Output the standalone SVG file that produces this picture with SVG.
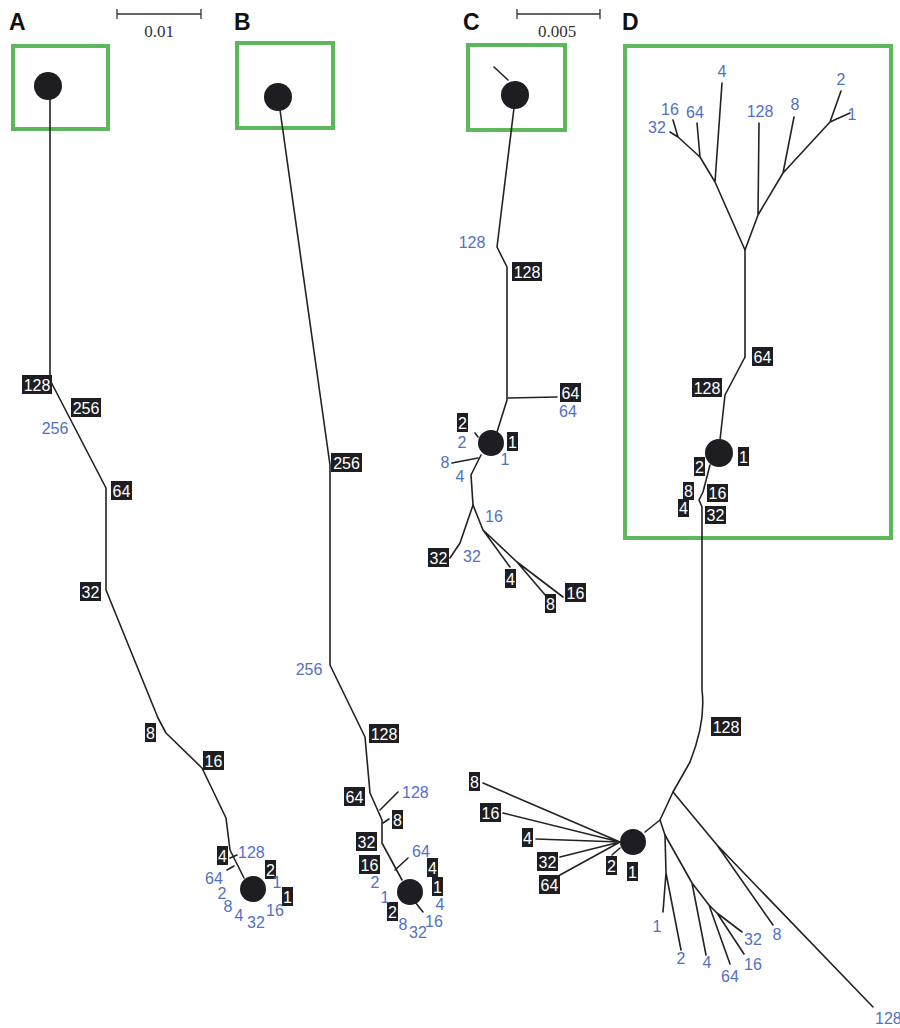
<svg xmlns="http://www.w3.org/2000/svg" width="900" height="1028" viewBox="0 0 900 1028">
<style>
.bg{fill:#fff}
.gb{fill:none;stroke:#5cb85a;stroke-width:4}
.e{fill:none;stroke:#222;stroke-width:1.6;stroke-linejoin:round;stroke-linecap:round}
.sc{fill:none;stroke:#333;stroke-width:1.3}
.nd{fill:#1e1e22}
.bx{fill:#1e1e22}
.wt{fill:#fff;font-family:"Liberation Sans",Arial,sans-serif;font-size:16px;text-anchor:middle}
.bl{fill:#5270c4;font-family:"Liberation Sans",Arial,sans-serif;font-size:16px;text-anchor:middle}
.bs{fill:#5270c4;font-family:"Liberation Sans",Arial,sans-serif;font-size:16px}
.pl{fill:#111;font-family:"Liberation Sans",Arial,sans-serif;font-size:23px;font-weight:bold}
.sv{fill:#333;font-family:"Liberation Serif","Times New Roman",serif;font-size:17px;text-anchor:middle}
</style>
<rect class="bg" x="0" y="0" width="900" height="1028"/>

<g id="labels-panels">
<text class="pl" x="9" y="30">A</text>
<text class="pl" x="234" y="30">B</text>
<text class="pl" x="463" y="30">C</text>
<text class="pl" x="622" y="30">D</text>
</g>

<g id="scale-bars">
<path class="sc" d="M117,14 H201 M117,9 V19 M201,9 V19"/>
<text class="sv" x="159" y="37">0.01</text>
<path class="sc" d="M517,14 H600 M517,9 V19 M600,9 V19"/>
<text class="sv" x="557" y="37">0.005</text>
</g>

<g id="highlight-boxes">
<rect class="gb" x="13" y="46" width="95" height="83"/>
<rect class="gb" x="237" y="43" width="96" height="85"/>
<rect class="gb" x="468" y="45" width="97" height="85"/>
<rect class="gb" x="625" y="46" width="266" height="492"/>
</g>

<g id="connectors">
<!-- A -->
<path class="e" d="M50,99 V380 L106,488 V590 L158,718 L166,733 L202,768 L226,818 L230,850 L244,878"/>
<path class="e" d="M230,858 L237,855 M227,870 L234,866"/>
<!-- B -->
<path class="e" d="M280,110 L330,465 V665 L365,737 L370,793 L382,820 V843 L402,880"/>
<path class="e" d="M380,810 L398,792 M383,823 L389,819 M395,870 L408,858 M415,902 L423,912"/>
<!-- C -->
<path class="e" d="M508,80 L494,67"/>
<path class="e" d="M514,108 L497,247 L507,267 V400 L497,432"/>
<path class="e" d="M508,398 L557,397 M478,458 L452,463 M475,433 L478,437"/>
<path class="e" d="M481,455 L471,475 L473,505 L460,543 L450,558"/>
<path class="e" d="M473,505 L483,530 L510,567 M483,530 L517,562 L552,603 M517,562 L563,597"/>
<!-- D upper -->
<path class="e" d="M745,357 V250 L715,182 L700,157 L678,137 L670,132 M715,182 L722,83 M700,157 L697,123 M678,137 L673,120"/>
<path class="e" d="M745,250 L758,215 L783,173 L830,122 L850,113 M758,215 L759,123 M783,173 L794,117 M830,122 L841,91"/>
<path class="e" d="M745,357 L725,395 L720,440"/>
<path class="e" d="M710,465 L703,492 L699,500 L702,507 V690 Q706,722 690,762 L673,792 L660,820 L645,832"/>
<!-- D lower -->
<path class="e" d="M673,792 L717,845 L873,1007 M717,845 L773,925"/>
<path class="e" d="M660,820 L665,835 L666,873 L663,912 M666,873 L681,950"/>
<path class="e" d="M665,835 L692,883 L706,955 M692,883 L709,905 L730,964 M709,905 L717,913 L744,954 M717,913 L742,932"/>
<path class="e" d="M620,842 L483,783 M620,842 L503,813 M620,842 L536,839 M620,842 L560,857 M620,842 L560,875 M620,848 L612,855"/>
</g>

<g id="node-A-root"><circle class="nd" cx="48" cy="86" r="14"/></g>
<g id="node-A-tip"><circle class="nd" cx="253" cy="889" r="13"/></g>
<g id="node-B-root"><circle class="nd" cx="278" cy="97" r="14"/></g>
<g id="node-B-tip"><circle class="nd" cx="410" cy="892" r="13"/></g>
<g id="node-C-root"><circle class="nd" cx="515" cy="95" r="14"/></g>
<g id="node-C-mid"><circle class="nd" cx="491" cy="443" r="13"/></g>
<g id="node-D-upper"><circle class="nd" cx="719" cy="453" r="14"/></g>
<g id="node-D-lower"><circle class="nd" cx="633" cy="842" r="13"/></g>

<g id="tags-A">
<rect class="bx" x="22" y="375" width="30" height="19"/><text class="wt" x="37" y="391">128</text>
<rect class="bx" x="71" y="398" width="30" height="19"/><text class="wt" x="86" y="414">256</text>
<rect class="bx" x="111" y="481" width="21" height="19"/><text class="wt" x="121.5" y="497">64</text>
<rect class="bx" x="80" y="582" width="21" height="19"/><text class="wt" x="90.5" y="598">32</text>
<rect class="bx" x="145" y="723" width="11" height="19"/><text class="wt" x="150.5" y="739">8</text>
<rect class="bx" x="203" y="751" width="21" height="19"/><text class="wt" x="213.5" y="767">16</text>
<rect class="bx" x="217" y="846" width="11" height="19"/><text class="wt" x="222.5" y="862">4</text>
<rect class="bx" x="265" y="860" width="11" height="19"/><text class="wt" x="270.5" y="876">2</text>
<rect class="bx" x="282" y="887" width="11" height="19"/><text class="wt" x="287.5" y="903">1</text>
<text class="bl" x="55" y="434">256</text>
<text class="bs" x="238" y="858">128</text>
<text class="bl" x="277" y="888">1</text>
<text class="bl" x="214" y="884">64</text>
<text class="bl" x="222" y="899">2</text>
<text class="bl" x="228" y="912">8</text>
<text class="bl" x="239" y="921">4</text>
<text class="bl" x="256" y="928">32</text>
<text class="bl" x="275" y="916">16</text>
</g>

<g id="tags-B">
<rect class="bx" x="331" y="453" width="31" height="19"/><text class="wt" x="346.5" y="469">256</text>
<rect class="bx" x="369" y="724" width="30" height="19"/><text class="wt" x="384" y="740">128</text>
<rect class="bx" x="344" y="787" width="21" height="19"/><text class="wt" x="354.5" y="803">64</text>
<rect class="bx" x="392" y="810" width="11" height="19"/><text class="wt" x="397.5" y="826">8</text>
<rect class="bx" x="356" y="832" width="21" height="19"/><text class="wt" x="366.5" y="848">32</text>
<rect class="bx" x="359" y="855" width="21" height="19"/><text class="wt" x="369.5" y="871">16</text>
<rect class="bx" x="387" y="902" width="11" height="19"/><text class="wt" x="392.5" y="918">2</text>
<rect class="bx" x="427" y="858" width="11" height="19"/><text class="wt" x="432.5" y="874">4</text>
<rect class="bx" x="432" y="877" width="11" height="19"/><text class="wt" x="437.5" y="893">1</text>
<text class="bl" x="309" y="675">256</text>
<text class="bs" x="402" y="798">128</text>
<text class="bs" x="412" y="857">64</text>
<text class="bl" x="375" y="888">2</text>
<text class="bl" x="385" y="903">1</text>
<text class="bl" x="403" y="930">8</text>
<text class="bl" x="418" y="938">32</text>
<text class="bl" x="434" y="927">16</text>
<text class="bl" x="440" y="910">4</text>
</g>

<g id="tags-C">
<rect class="bx" x="512" y="262" width="30" height="19"/><text class="wt" x="527" y="278">128</text>
<rect class="bx" x="560" y="383" width="21" height="19"/><text class="wt" x="570.5" y="399">64</text>
<rect class="bx" x="457" y="413" width="11" height="19"/><text class="wt" x="462.5" y="429">2</text>
<rect class="bx" x="507" y="432" width="11" height="19"/><text class="wt" x="512.5" y="448">1</text>
<rect class="bx" x="428" y="548" width="21" height="19"/><text class="wt" x="438.5" y="564">32</text>
<rect class="bx" x="505" y="569" width="11" height="19"/><text class="wt" x="510.5" y="585">4</text>
<rect class="bx" x="545" y="594" width="11" height="19"/><text class="wt" x="550.5" y="610">8</text>
<rect class="bx" x="565" y="583" width="21" height="19"/><text class="wt" x="575.5" y="599">16</text>
<text class="bl" x="472" y="248">128</text>
<text class="bl" x="568" y="417">64</text>
<text class="bl" x="462" y="448">2</text>
<text class="bl" x="505" y="465">1</text>
<text class="bl" x="445" y="468">8</text>
<text class="bl" x="460" y="482">4</text>
<text class="bl" x="494" y="522">16</text>
<text class="bl" x="472" y="562">32</text>
</g>

<g id="tags-D">
<rect class="bx" x="752" y="347" width="21" height="19"/><text class="wt" x="762.5" y="363">64</text>
<rect class="bx" x="692" y="378" width="30" height="19"/><text class="wt" x="707" y="394">128</text>
<rect class="bx" x="738" y="447" width="11" height="19"/><text class="wt" x="743.5" y="463">1</text>
<rect class="bx" x="694" y="457" width="11" height="19"/><text class="wt" x="699.5" y="473">2</text>
<rect class="bx" x="683" y="482" width="11" height="18"/><text class="wt" x="688.5" y="497">8</text>
<rect class="bx" x="707" y="484" width="21" height="18"/><text class="wt" x="717.5" y="499">16</text>
<rect class="bx" x="678" y="499" width="11" height="18"/><text class="wt" x="683.5" y="514">4</text>
<rect class="bx" x="705" y="506" width="21" height="18"/><text class="wt" x="715.5" y="521">32</text>
<rect class="bx" x="711" y="717" width="30" height="19"/><text class="wt" x="726" y="733">128</text>
<rect class="bx" x="469" y="772" width="11" height="19"/><text class="wt" x="474.5" y="788">8</text>
<rect class="bx" x="480" y="803" width="21" height="19"/><text class="wt" x="490.5" y="819">16</text>
<rect class="bx" x="522" y="828" width="11" height="19"/><text class="wt" x="527.5" y="844">4</text>
<rect class="bx" x="537" y="852" width="21" height="19"/><text class="wt" x="547.5" y="868">32</text>
<rect class="bx" x="539" y="875" width="21" height="19"/><text class="wt" x="549.5" y="891">64</text>
<rect class="bx" x="606" y="856" width="11" height="19"/><text class="wt" x="611.5" y="872">2</text>
<rect class="bx" x="627" y="862" width="11" height="19"/><text class="wt" x="632.5" y="878">1</text>
<text class="bl" x="722" y="77">4</text>
<text class="bl" x="695" y="118">64</text>
<text class="bl" x="670" y="115">16</text>
<text class="bl" x="657" y="133">32</text>
<text class="bl" x="760" y="117">128</text>
<text class="bl" x="795" y="110">8</text>
<text class="bl" x="841" y="85">2</text>
<text class="bl" x="852" y="120">1</text>
<text class="bl" x="657" y="932">1</text>
<text class="bl" x="681" y="964">2</text>
<text class="bl" x="707" y="968">4</text>
<text class="bl" x="730" y="982">64</text>
<text class="bl" x="753" y="970">16</text>
<text class="bl" x="753" y="945">32</text>
<text class="bl" x="777" y="940">8</text>
<text class="bs" x="875" y="1024">128</text>
</g>
</svg>
